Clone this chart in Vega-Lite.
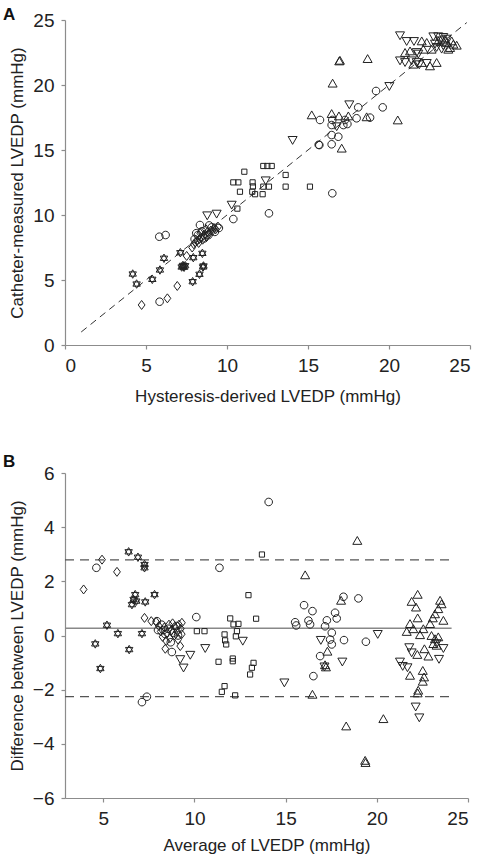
{
  "$schema": "https://vega.github.io/schema/vega-lite/v6.json",
  "background": "white",
  "padding": {"left": 3, "top": 6, "right": 5, "bottom": 5},
  "spacing": 49,
  "config": {
    "view": {"stroke": null},
    "font": "Liberation Sans",
    "axis": {"grid": false, "domainColor": "#8c8c8c", "tickColor": "#8c8c8c", "tickSize": 4, "domainWidth": 1.2, "tickWidth": 1.2,
      "labelFontSize": 19, "labelColor": "#222", "labelPadding": 7, "titleFontSize": 17, "titleFontWeight": "normal", "titleColor": "#222"},
    "title": {"fontSize": 17, "fontWeight": "bold", "color": "#111", "anchor": "start", "frame": "group"},
    "point": {"filled": false, "stroke": "#222", "strokeWidth": 1, "opacity": 1, "size": 100}
  },
  "datasets": {
    "a": [
      {"x":4.18,"y":5.46,"g":"star"},{"x":4.42,"y":4.69,"g":"star"},{"x":5.39,"y":5.05,"g":"star"},{"x":5.86,"y":5.77,"g":"star"},{"x":6.11,"y":6.67,"g":"star"},{"x":7.12,"y":7.1,"g":"star"},{"x":7.2,"y":6.0,"g":"star"},{"x":7.28,"y":6.12,"g":"star"},{"x":7.35,"y":5.98,"g":"star"},{"x":7.3,"y":6.05,"g":"star"},{"x":7.42,"y":6.1,"g":"star"},{"x":7.92,"y":6.72,"g":"star"},{"x":7.88,"y":4.87,"g":"star"},{"x":8.3,"y":5.44,"g":"star"},{"x":8.48,"y":7.05,"g":"star"},{"x":8.52,"y":6.0,"g":"star"},{"x":8.55,"y":6.08,"g":"star"},
      {"x":4.73,"y":3.08,"g":"diamond"},{"x":6.32,"y":3.59,"g":"diamond"},{"x":6.93,"y":4.54,"g":"diamond"},{"x":7.51,"y":6.85,"g":"diamond"},
      {"x":7.85,"y":7.5,"g":"diamond"},{"x":7.95,"y":7.75,"g":"diamond"},{"x":8.05,"y":7.9,"g":"diamond"},{"x":8.15,"y":8.0,"g":"diamond"},{"x":8.25,"y":7.85,"g":"diamond"},{"x":8.3,"y":8.15,"g":"diamond"},{"x":8.4,"y":8.25,"g":"diamond"},{"x":8.5,"y":8.1,"g":"diamond"},{"x":8.55,"y":8.4,"g":"diamond"},{"x":8.65,"y":8.5,"g":"diamond"},{"x":8.75,"y":8.35,"g":"diamond"},{"x":8.8,"y":8.7,"g":"diamond"},{"x":8.9,"y":8.6,"g":"diamond"},{"x":9.0,"y":8.8,"g":"diamond"},{"x":9.1,"y":8.75,"g":"diamond"},{"x":9.2,"y":9.0,"g":"diamond"},{"x":9.3,"y":8.9,"g":"diamond"},{"x":9.45,"y":9.1,"g":"diamond"},{"x":8.35,"y":8.6,"g":"diamond"},{"x":8.7,"y":8.9,"g":"diamond"},
      {"x":5.82,"y":8.33,"g":"circle"},{"x":6.21,"y":8.46,"g":"circle"},{"x":5.84,"y":3.33,"g":"circle"},{"x":10.39,"y":9.69,"g":"circle"},{"x":12.59,"y":10.13,"g":"circle"},{"x":8.33,"y":9.23,"g":"circle"},
      {"x":8.0,"y":8.15,"g":"circle"},{"x":8.2,"y":8.45,"g":"circle"},{"x":8.45,"y":8.75,"g":"circle"},{"x":8.6,"y":8.2,"g":"circle"},{"x":8.85,"y":8.45,"g":"circle"},{"x":9.05,"y":9.05,"g":"circle"},{"x":9.25,"y":8.7,"g":"circle"},{"x":9.5,"y":9.0,"g":"circle"},{"x":8.1,"y":8.6,"g":"circle"},{"x":8.9,"y":9.2,"g":"circle"},
      {"x":15.74,"y":17.31,"g":"circle"},{"x":16.5,"y":17.31,"g":"circle"},{"x":16.46,"y":16.92,"g":"circle"},{"x":17.28,"y":17.31,"g":"circle"},{"x":17.43,"y":17.0,"g":"circle"},{"x":17.18,"y":16.92,"g":"circle"},{"x":18.0,"y":17.44,"g":"circle"},{"x":18.83,"y":17.49,"g":"circle"},{"x":18.1,"y":18.28,"g":"circle"},{"x":19.61,"y":18.28,"g":"circle"},{"x":19.2,"y":19.54,"g":"circle"},{"x":16.46,"y":16.15,"g":"circle"},{"x":16.87,"y":16.02,"g":"circle"},{"x":15.7,"y":15.38,"g":"circle"},{"x":15.66,"y":15.4,"g":"circle"},{"x":16.46,"y":15.44,"g":"circle"},{"x":16.5,"y":11.67,"g":"circle"},
      {"x":11.07,"y":13.33,"g":"square"},{"x":12.24,"y":13.77,"g":"square"},{"x":12.49,"y":13.77,"g":"square"},{"x":12.76,"y":13.77,"g":"square"},{"x":13.62,"y":13.08,"g":"square"},{"x":10.39,"y":12.51,"g":"square"},{"x":10.7,"y":12.51,"g":"square"},{"x":11.58,"y":12.51,"g":"square"},{"x":10.8,"y":11.79,"g":"square"},{"x":11.56,"y":11.79,"g":"square"},{"x":11.73,"y":11.6,"g":"square"},{"x":12.2,"y":11.6,"g":"square"},{"x":12.59,"y":12.18,"g":"square"},{"x":13.62,"y":12.18,"g":"square"},{"x":15.12,"y":12.18,"g":"square"},{"x":10.64,"y":10.49,"g":"square"},{"x":12.24,"y":12.18,"g":"square"},{"x":11.6,"y":12.2,"g":"square"},
      {"x":10.29,"y":10.82,"g":"tri-down"},{"x":8.78,"y":10.0,"g":"tri-down"},{"x":9.36,"y":10.13,"g":"tri-down"},{"x":12.39,"y":12.69,"g":"tri-down"},{"x":14.05,"y":15.8,"g":"tri-down"},{"x":16.77,"y":16.85,"g":"tri-down"},{"x":17.55,"y":18.54,"g":"tri-down"},{"x":20.02,"y":19.95,"g":"tri-down"},
      {"x":16.93,"y":21.79,"g":"tri-up"},{"x":16.97,"y":21.84,"g":"tri-up"},{"x":18.68,"y":21.97,"g":"tri-up"},{"x":16.52,"y":20.08,"g":"tri-up"},{"x":15.23,"y":17.64,"g":"tri-up"},{"x":16.46,"y":17.74,"g":"tri-up"},{"x":16.91,"y":17.56,"g":"tri-up"},{"x":17.49,"y":17.56,"g":"tri-up"},{"x":18.62,"y":17.49,"g":"tri-up"},{"x":20.54,"y":17.25,"g":"tri-up"},{"x":17.08,"y":15.08,"g":"tri-up"},
      {"x":20.68,"y":23.85,"g":"tri-down"},{"x":21.09,"y":23.41,"g":"tri-down"},{"x":21.54,"y":23.41,"g":"tri-down"},{"x":22.02,"y":23.33,"g":"tri-up"},{"x":22.33,"y":23.21,"g":"tri-up"},{"x":22.74,"y":23.77,"g":"tri-down"},{"x":23.04,"y":23.77,"g":"tri-down"},{"x":23.35,"y":23.72,"g":"tri-down"},{"x":23.56,"y":23.21,"g":"tri-up"},{"x":23.97,"y":23.08,"g":"tri-up"},{"x":24.18,"y":23.0,"g":"tri-up"},{"x":23.77,"y":22.82,"g":"tri-up"},{"x":23.25,"y":22.82,"g":"tri-down"},{"x":22.94,"y":22.95,"g":"tri-down"},{"x":22.63,"y":22.69,"g":"tri-up"},{"x":22.12,"y":22.69,"g":"tri-up"},{"x":21.71,"y":22.56,"g":"tri-down"},{"x":21.3,"y":22.56,"g":"tri-up"},{"x":20.99,"y":22.44,"g":"tri-up"},{"x":21.81,"y":22.44,"g":"tri-down"},{"x":20.68,"y":21.92,"g":"tri-down"},{"x":20.99,"y":21.79,"g":"tri-down"},{"x":21.4,"y":21.92,"g":"tri-down"},{"x":21.71,"y":21.79,"g":"tri-down"},{"x":22.02,"y":21.67,"g":"tri-up"},{"x":22.33,"y":21.72,"g":"tri-down"},{"x":22.53,"y":21.41,"g":"tri-up"},{"x":22.94,"y":21.67,"g":"tri-up"},{"x":21.5,"y":21.54,"g":"tri-up"},{"x":21.87,"y":21.62,"g":"tri-down"},{"x":23.15,"y":23.46,"g":"tri-down"},{"x":23.46,"y":23.46,"g":"tri-up"},{"x":23.66,"y":22.69,"g":"tri-up"},{"x":23.35,"y":23.08,"g":"tri-down"},{"x":23.04,"y":23.33,"g":"tri-up"},{"x":22.84,"y":23.21,"g":"tri-down"},{"x":23.87,"y":23.33,"g":"tri-up"},{"x":23.56,"y":23.59,"g":"tri-down"}
    ],
    "b": [
      {"x":6.39,"y":3.09,"g":"star"},{"x":6.9,"y":2.89,"g":"star"},{"x":7.26,"y":2.62,"g":"star"},{"x":7.26,"y":2.5,"g":"star"},{"x":6.75,"y":1.51,"g":"star"},{"x":6.66,"y":1.33,"g":"star"},{"x":6.57,"y":1.14,"g":"star"},{"x":6.81,"y":1.27,"g":"star"},{"x":7.3,"y":1.24,"g":"star"},{"x":7.81,"y":1.51,"g":"star"},{"x":5.2,"y":0.38,"g":"star"},{"x":5.8,"y":0.07,"g":"star"},{"x":7.12,"y":0.07,"g":"star"},{"x":4.56,"y":-0.31,"g":"star"},{"x":6.42,"y":-0.52,"g":"star"},{"x":4.84,"y":-1.22,"g":"star"},
      {"x":3.92,"y":1.7,"g":"diamond"},{"x":4.93,"y":2.8,"g":"diamond"},{"x":5.75,"y":2.35,"g":"diamond"},{"x":7.26,"y":0.65,"g":"diamond"},{"x":7.63,"y":0.53,"g":"diamond"},
      {"x":7.9,"y":0.5,"g":"diamond"},{"x":8.05,"y":0.35,"g":"diamond"},{"x":8.15,"y":0.15,"g":"diamond"},{"x":8.25,"y":-0.05,"g":"diamond"},{"x":8.35,"y":0.3,"g":"diamond"},{"x":8.45,"y":-0.2,"g":"diamond"},{"x":8.5,"y":0.1,"g":"diamond"},{"x":8.6,"y":0.4,"g":"diamond"},{"x":8.65,"y":-0.1,"g":"diamond"},{"x":8.75,"y":0.2,"g":"diamond"},{"x":8.8,"y":0.45,"g":"diamond"},{"x":8.9,"y":0.0,"g":"diamond"},{"x":8.95,"y":0.3,"g":"diamond"},{"x":9.05,"y":0.15,"g":"diamond"},{"x":9.1,"y":-0.15,"g":"diamond"},{"x":9.15,"y":0.4,"g":"diamond"},{"x":9.25,"y":0.25,"g":"diamond"},{"x":9.3,"y":0.05,"g":"diamond"},{"x":8.4,"y":-0.49,"g":"diamond"},{"x":9.22,"y":-0.39,"g":"diamond"},{"x":9.31,"y":0.47,"g":"diamond"},
      {"x":8.0,"y":0.2,"g":"circle"},{"x":8.2,"y":0.4,"g":"circle"},{"x":8.4,"y":0.05,"g":"circle"},{"x":8.55,"y":0.25,"g":"circle"},{"x":8.7,"y":-0.25,"g":"circle"},{"x":8.85,"y":0.1,"g":"circle"},{"x":9.0,"y":0.35,"g":"circle"},{"x":9.1,"y":0.0,"g":"circle"},{"x":8.3,"y":0.2,"g":"circle"},{"x":8.76,"y":-0.61,"g":"circle"},{"x":7.94,"y":0.53,"g":"circle"},
      {"x":4.62,"y":2.5,"g":"circle"},{"x":11.37,"y":2.5,"g":"circle"},{"x":10.1,"y":0.68,"g":"circle"},{"x":7.12,"y":-2.46,"g":"circle"},{"x":7.39,"y":-2.26,"g":"circle"},{"x":14.07,"y":4.93,"g":"circle"},
      {"x":18.17,"y":1.43,"g":"circle"},{"x":18.99,"y":1.37,"g":"circle"},{"x":16.01,"y":1.12,"g":"circle"},{"x":16.47,"y":0.9,"g":"circle"},{"x":17.71,"y":0.84,"g":"circle"},{"x":17.8,"y":0.63,"g":"circle"},{"x":15.52,"y":0.49,"g":"circle"},{"x":15.58,"y":0.37,"g":"circle"},{"x":16.25,"y":0.55,"g":"circle"},{"x":16.34,"y":0.41,"g":"circle"},{"x":17.26,"y":0.56,"g":"circle"},{"x":17.16,"y":0.34,"g":"circle"},{"x":17.53,"y":0.1,"g":"circle"},{"x":17.44,"y":-0.15,"g":"circle"},{"x":17.53,"y":-0.33,"g":"circle"},{"x":18.2,"y":-0.17,"g":"circle"},{"x":19.4,"y":-0.23,"g":"circle"},{"x":16.89,"y":-0.76,"g":"circle"},{"x":16.52,"y":-1.5,"g":"circle"},
      {"x":13.7,"y":2.99,"g":"square"},{"x":12.96,"y":1.49,"g":"square"},{"x":13.38,"y":0.62,"g":"square"},{"x":11.96,"y":0.63,"g":"square"},{"x":12.14,"y":0.41,"g":"square"},{"x":12.41,"y":0.43,"g":"square"},{"x":10.13,"y":0.16,"g":"square"},{"x":10.55,"y":0.16,"g":"square"},{"x":11.65,"y":0.04,"g":"square"},{"x":12.33,"y":0.16,"g":"square"},{"x":12.27,"y":-0.03,"g":"square"},{"x":11.68,"y":-0.18,"g":"square"},{"x":11.74,"y":-0.33,"g":"square"},{"x":11.32,"y":-0.97,"g":"square"},{"x":12.1,"y":-0.85,"g":"square"},{"x":12.1,"y":-0.95,"g":"square"},{"x":13.24,"y":-1.01,"g":"square"},{"x":13.15,"y":-1.19,"g":"square"},{"x":13.05,"y":-1.44,"g":"square"},{"x":11.65,"y":-1.87,"g":"square"},{"x":11.5,"y":-2.08,"g":"square"},{"x":12.23,"y":-2.21,"g":"square"},
      {"x":12.65,"y":-0.18,"g":"tri-down"},{"x":10.59,"y":-0.45,"g":"tri-down"},{"x":9.77,"y":-0.7,"g":"tri-down"},{"x":9.22,"y":-0.86,"g":"tri-down"},{"x":9.4,"y":-1.17,"g":"tri-down"},{"x":20.05,"y":0.07,"g":"tri-down"},{"x":16.93,"y":-0.15,"g":"tri-down"},{"x":18.11,"y":-0.95,"g":"tri-down"},{"x":14.93,"y":-1.72,"g":"tri-down"},{"x":17.13,"y":-1.13,"g":"tri-down"},
      {"x":21.27,"y":-0.95,"g":"tri-down"},{"x":21.42,"y":-1.11,"g":"tri-down"},{"x":21.78,"y":-0.42,"g":"tri-down"},{"x":21.91,"y":-0.61,"g":"tri-down"},{"x":22.13,"y":-2.61,"g":"tri-down"},{"x":22.33,"y":-3.01,"g":"tri-down"},{"x":23.41,"y":-0.85,"g":"tri-down"},{"x":23.65,"y":-0.45,"g":"tri-down"},{"x":21.68,"y":-1.16,"g":"tri-down"},{"x":23.28,"y":-0.27,"g":"tri-down"},
      {"x":16.07,"y":2.21,"g":"tri-up"},{"x":18.93,"y":3.48,"g":"tri-up"},{"x":18.04,"y":1.27,"g":"tri-up"},{"x":16.47,"y":-2.2,"g":"tri-up"},{"x":18.32,"y":-3.37,"g":"tri-up"},{"x":20.36,"y":-3.1,"g":"tri-up"},{"x":19.36,"y":-4.64,"g":"tri-up"},{"x":19.38,"y":-4.72,"g":"tri-up"},{"x":17.29,"y":-0.61,"g":"tri-up"},{"x":17.16,"y":-1.11,"g":"tri-up"},{"x":17.21,"y":-1.19,"g":"tri-up"},
      {"x":22.24,"y":1.49,"g":"tri-up"},{"x":21.91,"y":1.23,"g":"tri-up"},{"x":22.15,"y":1.02,"g":"tri-up"},{"x":22.24,"y":0.62,"g":"tri-up"},{"x":21.82,"y":0.41,"g":"tri-up"},{"x":21.64,"y":0.12,"g":"tri-up"},{"x":22.0,"y":0.22,"g":"tri-up"},{"x":22.55,"y":0.22,"g":"tri-up"},{"x":22.37,"y":0.0,"g":"tri-up"},{"x":22.61,"y":-0.52,"g":"tri-up"},{"x":22.22,"y":-0.73,"g":"tri-up"},{"x":22.83,"y":-0.79,"g":"tri-up"},{"x":21.82,"y":-1.5,"g":"tri-up"},{"x":22.52,"y":-1.32,"g":"tri-up"},{"x":22.59,"y":-1.56,"g":"tri-up"},{"x":22.52,"y":-1.72,"g":"tri-up"},{"x":22.27,"y":-2.05,"g":"tri-up"},{"x":22.24,"y":-2.15,"g":"tri-up"},{"x":23.47,"y":1.27,"g":"tri-up"},{"x":23.55,"y":1.14,"g":"tri-up"},{"x":23.37,"y":0.96,"g":"tri-up"},{"x":23.19,"y":0.77,"g":"tri-up"},{"x":23.07,"y":0.62,"g":"tri-up"},{"x":23.65,"y":0.53,"g":"tri-up"},{"x":22.92,"y":0.41,"g":"tri-up"},{"x":23.0,"y":-0.03,"g":"tri-up"},{"x":23.19,"y":-0.15,"g":"tri-up"},{"x":23.1,"y":-0.33,"g":"tri-up"},{"x":23.37,"y":-0.08,"g":"tri-up"},{"x":23.28,"y":-0.39,"g":"tri-up"}
    ],
    "ident": [{"x":1,"y":1},{"x":24.8,"y":24.8}],
    "mean": [{"y":0.27}],
    "loa": [{"y":2.79},{"y":-2.26}]
  },
  "vconcat": [
    {
      "width": 405, "height": 325,
      "title": {"text": "A", "dx": -62, "offset": -13},
      "layer": [
        {
          "data": {"name": "ident"},
          "mark": {"type": "line", "color": "#333", "strokeWidth": 1, "strokeDash": [7, 5]},
          "encoding": {
            "x": {"field": "x", "type": "quantitative", "scale": {"domain": [0, 25], "nice": false}, "axis": {"values": [0,5,10,15,20,25], "title": "Hysteresis-derived LVEDP (mmHg)", "titlePadding": 13}},
            "y": {"field": "y", "type": "quantitative", "scale": {"domain": [0, 25], "nice": false}, "axis": {"values": [0,5,10,15,20,25], "title": "Catheter-measured LVEDP (mmHg)", "titleX": -48, "titleBaseline": "middle"}}
          }
        },
        {
          "data": {"name": "a"},
          "mark": {"type": "point"},
          "encoding": {
            "x": {"field": "x", "type": "quantitative"},
            "y": {"field": "y", "type": "quantitative"},
            "shape": {"field": "g", "type": "nominal", "legend": null, "scale": {"domain": ["circle","square","tri-up","tri-down","diamond","star"], "range": ["M-0.76,0A0.76,0.76,0,1,1,0.76,0A0.76,0.76,0,1,1,-0.76,0Z","M-0.52,-0.52H0.52V0.52H-0.52Z","M0,-0.95L0.9,0.62L-0.9,0.62Z","M0,0.95L0.9,-0.62L-0.9,-0.62Z","M0,-0.9L0.68,0L0,0.9L-0.68,0Z","M0,-0.85L0.74,0.43L-0.74,0.43Z M0,0.85L0.74,-0.43L-0.74,-0.43Z"]}}
          }
        }
      ]
    },
    {
      "width": 403, "height": 325,
      "title": {"text": "B", "dx": -62, "offset": -7},
      "layer": [
        {
          "data": {"name": "loa"},
          "mark": {"type": "rule", "color": "#555", "strokeWidth": 1.2, "strokeDash": [9, 6]},
          "encoding": {
            "y": {"field": "y", "type": "quantitative", "scale": {"domain": [-6, 6], "nice": false}, "axis": {"values": [-6,-4,-2,0,2,4,6], "title": "Difference between LVEDP (mmHg)", "titleX": -48, "titleBaseline": "middle"}},
            "x": {"datum": 2.9, "type": "quantitative", "scale": {"domain": [2.9, 25], "nice": false}, "axis": {"values": [5,10,15,20,25], "title": "Average of LVEDP (mmHg)", "titlePadding": 9}},
            "x2": {"datum": 24.1}
          }
        },
        {
          "data": {"name": "mean"},
          "mark": {"type": "rule", "color": "#888", "strokeWidth": 1.6},
          "encoding": {
            "y": {"field": "y", "type": "quantitative"},
            "x": {"datum": 2.9, "type": "quantitative"},
            "x2": {"datum": 24.1}
          }
        },
        {
          "data": {"name": "b"},
          "mark": {"type": "point"},
          "encoding": {
            "x": {"field": "x", "type": "quantitative"},
            "y": {"field": "y", "type": "quantitative"},
            "shape": {"field": "g", "type": "nominal", "legend": null, "scale": {"domain": ["circle","square","tri-up","tri-down","diamond","star"], "range": ["M-0.76,0A0.76,0.76,0,1,1,0.76,0A0.76,0.76,0,1,1,-0.76,0Z","M-0.52,-0.52H0.52V0.52H-0.52Z","M0,-0.95L0.9,0.62L-0.9,0.62Z","M0,0.95L0.9,-0.62L-0.9,-0.62Z","M0,-0.9L0.68,0L0,0.9L-0.68,0Z","M0,-0.85L0.74,0.43L-0.74,0.43Z M0,0.85L0.74,-0.43L-0.74,-0.43Z"]}}
          }
        }
      ]
    }
  ]
}
